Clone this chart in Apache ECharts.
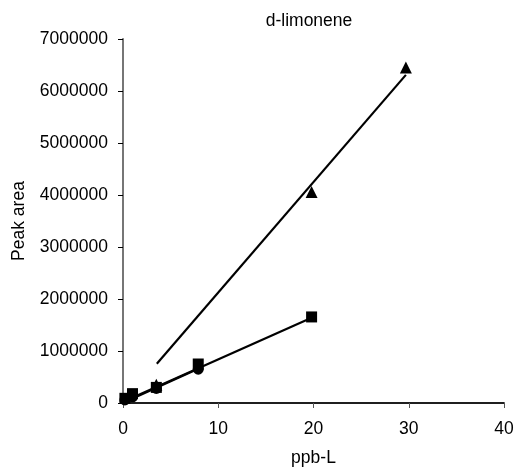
<!DOCTYPE html>
<html><head><meta charset="utf-8">
<script src="https://cdn.jsdelivr.net/npm/echarts@6/dist/echarts.min.js"></script>
<style>html,body{margin:0;padding:0;background:#fff}#c{width:521px;height:472px}</style>
</head><body><div id="c"></div>
<script>
const titleText = 'd-limonene';
const xName = 'ppb-L';
const yName = 'Peak area';
const xTicks = [0, 10, 20, 30, 40];
const yTicks = [0, 1000000, 2000000, 3000000, 4000000, 5000000, 6000000, 7000000];

const squareX = [0.2, 1.0, 3.5, 7.9, 19.8];
const squareY = [90000, 180000, 300000, 750000, 1655000];
const circleX = [0.2, 1.0, 3.5, 7.9];
const circleY = [60000, 120000, 280000, 650000];
const triangleX = [3.5, 19.8, 29.7];
const triangleY = [350000, 4060000, 6450000];

const squareFitX = [0.2, 19.8];
const squareFitY = [40000, 1640000];
const circleFitX = [0.2, 7.9];
const circleFitY = [20000, 660000];
const triangleFitX = [3.55, 29.7];
const triangleFitY = [755000, 6310000];

const pairs = (xs, ys) => xs.map((x, i) => [x, ys[i]]);
const font = 'Liberation Sans, Arial, sans-serif';
const fs = 17.5;

const chart = echarts.init(document.getElementById('c'), null, {renderer: 'canvas'});
const lineS = (xs, ys) => ({type: 'line', data: pairs(xs, ys), symbol: 'none', silent: true,
  lineStyle: {color: '#000', width: 2.2}, z: 2, animation: false});
const scat = (xs, ys, sym, size) => ({type: 'scatter', data: pairs(xs, ys), symbol: sym, symbolSize: size,
  itemStyle: {color: '#000', opacity: 1}, z: 3, animation: false});

chart.setOption({
  animation: false,
  title: {text: titleText, left: 304, top: 7, textAlign: 'center',
    textStyle: {fontFamily: font, fontSize: fs, fontWeight: 'normal', color: '#000'}},
  grid: {left: 123, top: 39, right: 17, bottom: 68.5, show: false},
  xAxis: [{
    type: 'value', min: xTicks[0], max: xTicks[xTicks.length - 1], interval: 10,
    name: xName, nameLocation: 'middle', nameGap: 46,
    nameTextStyle: {fontFamily: font, fontSize: fs, color: '#000'},
    axisLine: {show: true, onZero: false, lineStyle: {color: '#555', width: 1.5}},
    axisTick: {show: true, inside: false, length: 5, lineStyle: {color: '#555'}},
    axisLabel: {fontFamily: font, fontSize: fs, color: '#000', margin: 17},
    splitLine: {show: false}
  }, {
    type: 'value', position: 'top', min: 0, max: 40,
    axisLine: {show: true, lineStyle: {color: '#000', width: 1.5}},
    axisTick: {show: false}, axisLabel: {show: false}, splitLine: {show: false}
  }],
  yAxis: [{
    type: 'value', min: yTicks[0], max: yTicks[yTicks.length - 1], interval: 1000000,
    name: yName, nameLocation: 'middle', nameGap: 95,
    nameTextStyle: {fontFamily: font, fontSize: fs, color: '#000'},
    axisLine: {show: true, onZero: false, lineStyle: {color: '#000', width: 1.5}},
    axisTick: {show: true, inside: false, length: 5, lineStyle: {color: '#000'}},
    axisLabel: {fontFamily: font, fontSize: fs, color: '#000', margin: 15,
      formatter: v => String(v)},
    splitLine: {show: false}
  }, {
    type: 'value', position: 'right', min: 0, max: 7000000,
    axisLine: {show: true, lineStyle: {color: '#888', width: 1.5}},
    axisTick: {show: false}, axisLabel: {show: false}, splitLine: {show: false}
  }],
  series: [
    lineS(triangleFitX, triangleFitY),
    lineS(squareFitX, squareFitY),
    lineS(circleFitX, circleFitY),
    scat(circleX, circleY, 'circle', 11),
    scat(squareX, squareY, 'rect', 11),
    scat(triangleX, triangleY, 'triangle', 12)
  ]
});
</script></body></html>
